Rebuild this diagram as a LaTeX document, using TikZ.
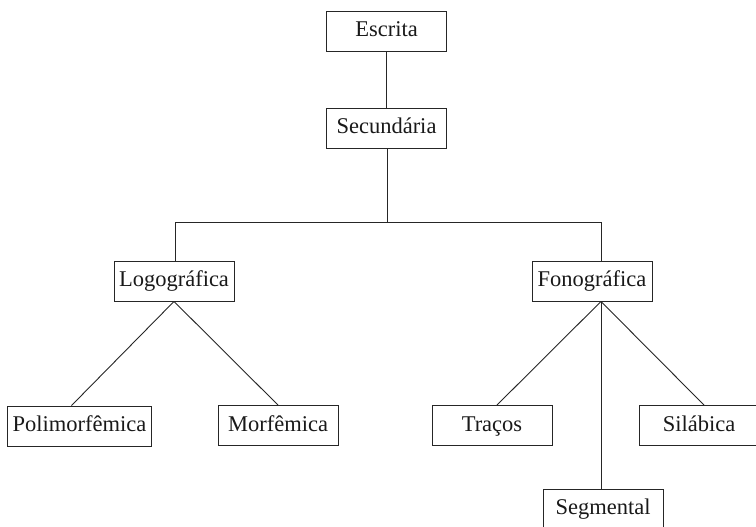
\documentclass[tikz,border=0pt]{standalone}
\usepackage{fontspec}
\setmainfont{Liberation Serif}
\begin{document}
\begin{tikzpicture}[x=1pt,y=1pt,
  box/.style={draw=black!85, line width=0.9pt, minimum width=120pt, minimum height=40pt,
    inner xsep=5pt, text height=15pt, text depth=4pt,
    font=\fontsize{22.5}{26}\selectfont, text=black!90},
  conn/.style={draw=black!85, line width=0.9pt}]
\useasboundingbox (0,0) rectangle (756,-527);
\node[box] (escrita) at (386.5,-31) {Escrita};
\node[box] (secund) at (386.5,-128) {Secundária};
\node[box] (logo) at (174,-281) {Logográfica};
\node[box] (fono) at (592,-281) {Fonográfica};
\node[box] (poli) at (79.5,-426) {Polimorfêmica};
\node[box] (morf) at (278,-425.5) {Morfêmica};
\node[box] (tracos) at (492,-425.5) {Traços};
\node[box] (silab) at (699,-425.5) {Silábica};
\node[box] (segm) at (603,-509) {Segmental};
\coordinate (jm) at (387,-222);
\coordinate (jl) at (175,-222);
\coordinate (jr) at (601,-222);
\coordinate (fb) at ([xshift=9pt]fono.south);
\draw[conn] (escrita) -- (secund);
\draw[conn] (secund.south -| jm) -- (jm);
\draw[conn] (jl) -- (jr);
\draw[conn] (jl) -- (logo.north -| jl);
\draw[conn] (jr) -- (fono.north -| jr);
\draw[conn] (logo.south) -- ([xshift=-8pt]poli.north);
\draw[conn] (logo.south) -- (morf.north);
\draw[conn] (fb) -- ([xshift=5pt]tracos.north);
\draw[conn] (fb) -- ([xshift=5pt]silab.north);
\draw[conn] (fb) -- (fb |- segm.north);
\end{tikzpicture}
\end{document}
